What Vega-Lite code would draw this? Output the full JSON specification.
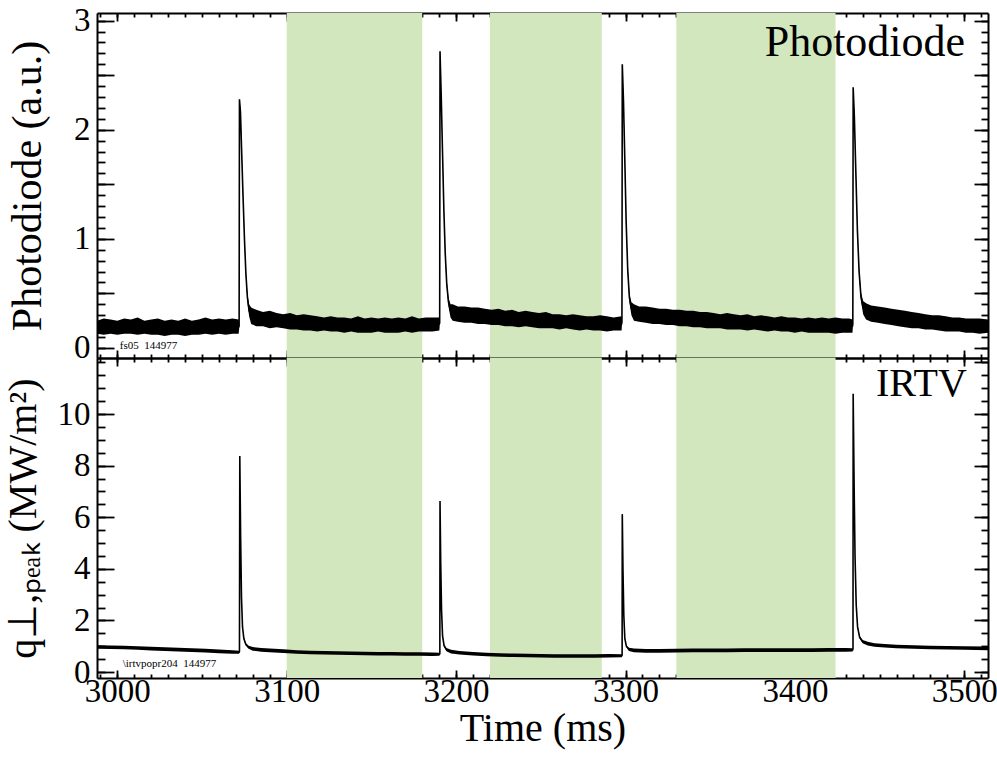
{
  "$schema": "https://vega.github.io/schema/vega-lite/v6.json",
  "padding": {"left": 2, "top": 4, "right": 5, "bottom": 5},
  "bounds": "flush",
  "background": "white",
  "config": {
    "view": {"stroke": null},
    "font": "Liberation Serif",
    "axis": {
      "domainColor": "black", "domainWidth": 2, "tickColor": "black", "tickWidth": 1.8,
      "labelColor": "black", "titleColor": "black", "titleFontWeight": "normal",
      "labelFont": "Liberation Serif", "titleFont": "Liberation Serif",
      "labelOverlap": false, "labelFlush": false, "labelBound": false, "grid": false, "zindex": 1
    }
  },
  "datasets": {
    "bands": [
      {"start": 3100, "end": 3180},
      {"start": 3220, "end": 3286},
      {"start": 3330, "end": 3424}
    ],
    "pd": [
      {"t":2988,"v":0.19,"lo":0.13,"hi":0.25},{"t":2992,"v":0.19,"lo":0.12,"hi":0.27},{"t":2996,"v":0.2,"lo":0.13,"hi":0.26},
      {"t":3000,"v":0.19,"lo":0.12,"hi":0.25},{"t":3004,"v":0.19,"lo":0.13,"hi":0.27},{"t":3008,"v":0.2,"lo":0.13,"hi":0.26},
      {"t":3012,"v":0.19,"lo":0.12,"hi":0.28},{"t":3016,"v":0.19,"lo":0.13,"hi":0.25},{"t":3020,"v":0.18,"lo":0.12,"hi":0.26},
      {"t":3024,"v":0.19,"lo":0.12,"hi":0.27},{"t":3028,"v":0.18,"lo":0.11,"hi":0.25},{"t":3032,"v":0.18,"lo":0.12,"hi":0.26},
      {"t":3036,"v":0.19,"lo":0.12,"hi":0.25},{"t":3040,"v":0.18,"lo":0.11,"hi":0.27},{"t":3044,"v":0.18,"lo":0.12,"hi":0.25},
      {"t":3048,"v":0.19,"lo":0.12,"hi":0.26},{"t":3052,"v":0.19,"lo":0.13,"hi":0.28},{"t":3056,"v":0.19,"lo":0.12,"hi":0.26},
      {"t":3060,"v":0.19,"lo":0.13,"hi":0.27},{"t":3064,"v":0.19,"lo":0.12,"hi":0.26},{"t":3068,"v":0.2,"lo":0.13,"hi":0.27},
      {"t":3071.6,"v":0.19,"lo":0.13,"hi":0.26},{"t":3071.9,"v":0.2,"lo":0.17,"hi":0.23},
      {"t":3072.1,"v":2.28,"lo":2.26,"hi":2.29},{"t":3072.7,"v":2.16,"lo":2.13,"hi":2.19},{"t":3073.5,"v":1.75,"lo":1.72,"hi":1.78},
      {"t":3074.3,"v":1.35,"lo":1.32,"hi":1.38},{"t":3075.1,"v":0.98,"lo":0.95,"hi":1.01},{"t":3075.9,"v":0.68,"lo":0.65,"hi":0.71},
      {"t":3076.8,"v":0.46,"lo":0.42,"hi":0.5},{"t":3077.8,"v":0.34,"lo":0.29,"hi":0.4},{"t":3079,"v":0.29,"lo":0.22,"hi":0.37},
      {"t":3082,"v":0.27,"lo":0.2,"hi":0.35},{"t":3086,"v":0.26,"lo":0.2,"hi":0.33},{"t":3090,"v":0.25,"lo":0.18,"hi":0.34},
      {"t":3094,"v":0.25,"lo":0.19,"hi":0.32},{"t":3098,"v":0.24,"lo":0.18,"hi":0.31},{"t":3102,"v":0.24,"lo":0.17,"hi":0.32},
      {"t":3106,"v":0.23,"lo":0.17,"hi":0.3},{"t":3110,"v":0.23,"lo":0.16,"hi":0.31},{"t":3114,"v":0.22,"lo":0.16,"hi":0.3},
      {"t":3118,"v":0.22,"lo":0.15,"hi":0.29},{"t":3122,"v":0.22,"lo":0.16,"hi":0.28},{"t":3126,"v":0.21,"lo":0.15,"hi":0.29},
      {"t":3130,"v":0.21,"lo":0.15,"hi":0.28},{"t":3134,"v":0.21,"lo":0.14,"hi":0.28},{"t":3138,"v":0.21,"lo":0.15,"hi":0.27},
      {"t":3142,"v":0.21,"lo":0.14,"hi":0.29},{"t":3146,"v":0.2,"lo":0.14,"hi":0.27},{"t":3150,"v":0.2,"lo":0.14,"hi":0.28},
      {"t":3154,"v":0.21,"lo":0.15,"hi":0.27},{"t":3158,"v":0.2,"lo":0.14,"hi":0.28},{"t":3162,"v":0.21,"lo":0.14,"hi":0.27},
      {"t":3166,"v":0.2,"lo":0.14,"hi":0.28},{"t":3170,"v":0.21,"lo":0.15,"hi":0.27},{"t":3174,"v":0.21,"lo":0.14,"hi":0.29},
      {"t":3178,"v":0.21,"lo":0.15,"hi":0.27},{"t":3182,"v":0.21,"lo":0.15,"hi":0.28},{"t":3186,"v":0.22,"lo":0.15,"hi":0.28},
      {"t":3190.1,"v":0.22,"lo":0.16,"hi":0.28},{"t":3190.3,"v":0.23,"lo":0.2,"hi":0.26},
      {"t":3190.5,"v":2.72,"lo":2.7,"hi":2.73},{"t":3191.2,"v":2.32,"lo":2.29,"hi":2.35},{"t":3192.0,"v":1.78,"lo":1.75,"hi":1.81},
      {"t":3192.8,"v":1.25,"lo":1.22,"hi":1.28},{"t":3193.6,"v":0.86,"lo":0.83,"hi":0.89},{"t":3194.5,"v":0.58,"lo":0.55,"hi":0.61},
      {"t":3195.5,"v":0.42,"lo":0.38,"hi":0.46},{"t":3196.7,"v":0.34,"lo":0.28,"hi":0.4},{"t":3198,"v":0.32,"lo":0.25,"hi":0.4},
      {"t":3201,"v":0.31,"lo":0.24,"hi":0.38},{"t":3205,"v":0.3,"lo":0.23,"hi":0.38},{"t":3209,"v":0.3,"lo":0.23,"hi":0.37},
      {"t":3213,"v":0.29,"lo":0.22,"hi":0.37},{"t":3217,"v":0.29,"lo":0.22,"hi":0.36},{"t":3221,"v":0.28,"lo":0.21,"hi":0.35},
      {"t":3225,"v":0.28,"lo":0.21,"hi":0.36},{"t":3229,"v":0.27,"lo":0.2,"hi":0.34},{"t":3233,"v":0.27,"lo":0.2,"hi":0.35},
      {"t":3237,"v":0.26,"lo":0.19,"hi":0.33},{"t":3241,"v":0.26,"lo":0.2,"hi":0.34},{"t":3245,"v":0.26,"lo":0.19,"hi":0.33},
      {"t":3249,"v":0.25,"lo":0.18,"hi":0.32},{"t":3253,"v":0.25,"lo":0.18,"hi":0.33},{"t":3257,"v":0.24,"lo":0.18,"hi":0.31},
      {"t":3261,"v":0.24,"lo":0.17,"hi":0.31},{"t":3265,"v":0.24,"lo":0.18,"hi":0.3},{"t":3269,"v":0.23,"lo":0.17,"hi":0.31},
      {"t":3273,"v":0.23,"lo":0.16,"hi":0.3},{"t":3277,"v":0.23,"lo":0.17,"hi":0.29},{"t":3281,"v":0.22,"lo":0.16,"hi":0.29},
      {"t":3285,"v":0.22,"lo":0.16,"hi":0.3},{"t":3289,"v":0.22,"lo":0.15,"hi":0.29},{"t":3293,"v":0.22,"lo":0.16,"hi":0.28},
      {"t":3297.7,"v":0.22,"lo":0.16,"hi":0.29},{"t":3297.9,"v":0.24,"lo":0.21,"hi":0.27},
      {"t":3298.1,"v":2.6,"lo":2.58,"hi":2.61},{"t":3298.8,"v":2.27,"lo":2.24,"hi":2.3},{"t":3299.6,"v":1.72,"lo":1.69,"hi":1.75},
      {"t":3300.4,"v":1.15,"lo":1.12,"hi":1.18},{"t":3301.3,"v":0.72,"lo":0.69,"hi":0.75},{"t":3302.3,"v":0.46,"lo":0.42,"hi":0.5},
      {"t":3303.5,"v":0.36,"lo":0.3,"hi":0.42},{"t":3305,"v":0.32,"lo":0.25,"hi":0.4},{"t":3308,"v":0.31,"lo":0.24,"hi":0.38},
      {"t":3312,"v":0.3,"lo":0.23,"hi":0.38},{"t":3316,"v":0.29,"lo":0.22,"hi":0.37},{"t":3320,"v":0.29,"lo":0.22,"hi":0.36},
      {"t":3324,"v":0.28,"lo":0.21,"hi":0.36},{"t":3328,"v":0.28,"lo":0.21,"hi":0.35},{"t":3332,"v":0.27,"lo":0.2,"hi":0.35},
      {"t":3336,"v":0.27,"lo":0.2,"hi":0.34},{"t":3340,"v":0.26,"lo":0.19,"hi":0.34},{"t":3344,"v":0.26,"lo":0.19,"hi":0.33},
      {"t":3348,"v":0.25,"lo":0.18,"hi":0.33},{"t":3352,"v":0.25,"lo":0.18,"hi":0.32},{"t":3356,"v":0.24,"lo":0.18,"hi":0.31},
      {"t":3360,"v":0.24,"lo":0.17,"hi":0.32},{"t":3364,"v":0.24,"lo":0.17,"hi":0.31},{"t":3368,"v":0.23,"lo":0.17,"hi":0.3},
      {"t":3372,"v":0.23,"lo":0.16,"hi":0.31},{"t":3376,"v":0.23,"lo":0.17,"hi":0.29},{"t":3380,"v":0.22,"lo":0.16,"hi":0.3},
      {"t":3384,"v":0.22,"lo":0.15,"hi":0.29},{"t":3388,"v":0.22,"lo":0.16,"hi":0.28},{"t":3392,"v":0.21,"lo":0.15,"hi":0.29},
      {"t":3396,"v":0.21,"lo":0.15,"hi":0.28},{"t":3400,"v":0.21,"lo":0.14,"hi":0.28},{"t":3404,"v":0.21,"lo":0.15,"hi":0.27},
      {"t":3408,"v":0.21,"lo":0.14,"hi":0.28},{"t":3412,"v":0.2,"lo":0.14,"hi":0.27},{"t":3416,"v":0.21,"lo":0.14,"hi":0.28},
      {"t":3420,"v":0.2,"lo":0.14,"hi":0.27},{"t":3424,"v":0.2,"lo":0.13,"hi":0.28},{"t":3428,"v":0.2,"lo":0.14,"hi":0.27},
      {"t":3432,"v":0.2,"lo":0.14,"hi":0.27},{"t":3434.0,"v":0.2,"lo":0.14,"hi":0.26},{"t":3434.2,"v":0.22,"lo":0.19,"hi":0.25},
      {"t":3434.4,"v":2.39,"lo":2.37,"hi":2.4},{"t":3435.1,"v":2.12,"lo":2.09,"hi":2.15},{"t":3436.0,"v":1.6,"lo":1.57,"hi":1.63},
      {"t":3436.9,"v":1.08,"lo":1.05,"hi":1.11},{"t":3437.9,"v":0.7,"lo":0.67,"hi":0.73},{"t":3439,"v":0.47,"lo":0.43,"hi":0.51},
      {"t":3440.3,"v":0.37,"lo":0.31,"hi":0.43},{"t":3442,"v":0.33,"lo":0.26,"hi":0.41},{"t":3445,"v":0.31,"lo":0.24,"hi":0.39},
      {"t":3449,"v":0.3,"lo":0.23,"hi":0.38},{"t":3453,"v":0.29,"lo":0.22,"hi":0.37},{"t":3457,"v":0.28,"lo":0.21,"hi":0.36},
      {"t":3461,"v":0.27,"lo":0.2,"hi":0.35},{"t":3465,"v":0.26,"lo":0.19,"hi":0.34},{"t":3469,"v":0.25,"lo":0.18,"hi":0.33},
      {"t":3473,"v":0.24,"lo":0.18,"hi":0.32},{"t":3477,"v":0.24,"lo":0.17,"hi":0.31},{"t":3481,"v":0.23,"lo":0.17,"hi":0.3},
      {"t":3485,"v":0.22,"lo":0.16,"hi":0.3},{"t":3489,"v":0.22,"lo":0.15,"hi":0.29},{"t":3493,"v":0.21,"lo":0.15,"hi":0.28},
      {"t":3497,"v":0.21,"lo":0.15,"hi":0.28},{"t":3501,"v":0.2,"lo":0.14,"hi":0.27},{"t":3505,"v":0.2,"lo":0.14,"hi":0.27},
      {"t":3509,"v":0.2,"lo":0.13,"hi":0.27},{"t":3514,"v":0.2,"lo":0.14,"hi":0.26}
    ],
    "ir": [
      {"t":2988,"v":0.97,"lo":0.9,"hi":1.04},{"t":2996,"v":0.96,"lo":0.89,"hi":1.03},{"t":3004,"v":0.95,"lo":0.88,"hi":1.02},
      {"t":3012,"v":0.93,"lo":0.86,"hi":1.0},{"t":3020,"v":0.91,"lo":0.84,"hi":0.98},{"t":3028,"v":0.89,"lo":0.82,"hi":0.96},
      {"t":3036,"v":0.87,"lo":0.8,"hi":0.94},{"t":3044,"v":0.85,"lo":0.78,"hi":0.92},{"t":3052,"v":0.83,"lo":0.76,"hi":0.9},
      {"t":3060,"v":0.8,"lo":0.73,"hi":0.87},{"t":3068,"v":0.78,"lo":0.71,"hi":0.85},{"t":3071.9,"v":0.77,"lo":0.71,"hi":0.83},
      {"t":3072.1,"v":0.8,"lo":0.78,"hi":0.82},
      {"t":3072.3,"v":8.37,"lo":8.35,"hi":8.38},{"t":3072.8,"v":5.2,"lo":5.18,"hi":5.22},{"t":3073.3,"v":2.9,"lo":2.88,"hi":2.92},
      {"t":3073.9,"v":1.75,"lo":1.72,"hi":1.78},{"t":3074.7,"v":1.3,"lo":1.26,"hi":1.34},{"t":3075.8,"v":1.08,"lo":1.03,"hi":1.13},
      {"t":3077.5,"v":0.96,"lo":0.9,"hi":1.02},{"t":3080,"v":0.9,"lo":0.83,"hi":0.97},{"t":3085,"v":0.86,"lo":0.79,"hi":0.93},
      {"t":3090,"v":0.84,"lo":0.77,"hi":0.91},{"t":3098,"v":0.81,"lo":0.74,"hi":0.88},{"t":3106,"v":0.78,"lo":0.71,"hi":0.85},
      {"t":3114,"v":0.76,"lo":0.69,"hi":0.83},{"t":3122,"v":0.75,"lo":0.68,"hi":0.82},{"t":3130,"v":0.74,"lo":0.67,"hi":0.81},
      {"t":3138,"v":0.73,"lo":0.66,"hi":0.8},{"t":3146,"v":0.72,"lo":0.65,"hi":0.79},{"t":3154,"v":0.71,"lo":0.64,"hi":0.78},
      {"t":3162,"v":0.71,"lo":0.64,"hi":0.78},{"t":3170,"v":0.7,"lo":0.63,"hi":0.77},{"t":3178,"v":0.7,"lo":0.63,"hi":0.77},
      {"t":3186,"v":0.69,"lo":0.62,"hi":0.76},{"t":3190.2,"v":0.69,"lo":0.63,"hi":0.75},{"t":3190.4,"v":0.72,"lo":0.7,"hi":0.74},
      {"t":3190.5,"v":6.63,"lo":6.61,"hi":6.64},{"t":3190.9,"v":4.3,"lo":4.28,"hi":4.32},{"t":3191.4,"v":2.4,"lo":2.38,"hi":2.42},
      {"t":3192.0,"v":1.4,"lo":1.37,"hi":1.43},{"t":3192.9,"v":1.02,"lo":0.98,"hi":1.06},{"t":3194.3,"v":0.87,"lo":0.81,"hi":0.93},
      {"t":3197,"v":0.79,"lo":0.72,"hi":0.86},{"t":3202,"v":0.75,"lo":0.68,"hi":0.82},{"t":3210,"v":0.71,"lo":0.64,"hi":0.78},
      {"t":3218,"v":0.68,"lo":0.61,"hi":0.75},{"t":3226,"v":0.66,"lo":0.59,"hi":0.73},{"t":3234,"v":0.65,"lo":0.58,"hi":0.72},
      {"t":3242,"v":0.64,"lo":0.57,"hi":0.71},{"t":3250,"v":0.63,"lo":0.56,"hi":0.7},{"t":3258,"v":0.62,"lo":0.55,"hi":0.69},
      {"t":3266,"v":0.62,"lo":0.55,"hi":0.69},{"t":3274,"v":0.62,"lo":0.55,"hi":0.69},{"t":3282,"v":0.62,"lo":0.55,"hi":0.69},
      {"t":3290,"v":0.63,"lo":0.56,"hi":0.7},{"t":3297.8,"v":0.63,"lo":0.57,"hi":0.69},{"t":3298.0,"v":0.66,"lo":0.64,"hi":0.68},
      {"t":3298.1,"v":6.12,"lo":6.1,"hi":6.13},{"t":3298.5,"v":4.0,"lo":3.98,"hi":4.02},{"t":3299.0,"v":2.2,"lo":2.18,"hi":2.22},
      {"t":3299.6,"v":1.3,"lo":1.27,"hi":1.33},{"t":3300.5,"v":1.0,"lo":0.96,"hi":1.04},{"t":3302,"v":0.88,"lo":0.82,"hi":0.94},
      {"t":3305,"v":0.84,"lo":0.77,"hi":0.91},{"t":3312,"v":0.82,"lo":0.75,"hi":0.89},{"t":3320,"v":0.82,"lo":0.75,"hi":0.89},
      {"t":3330,"v":0.83,"lo":0.76,"hi":0.9},{"t":3340,"v":0.84,"lo":0.77,"hi":0.91},{"t":3350,"v":0.84,"lo":0.77,"hi":0.91},
      {"t":3360,"v":0.84,"lo":0.77,"hi":0.91},{"t":3370,"v":0.85,"lo":0.78,"hi":0.92},{"t":3380,"v":0.85,"lo":0.78,"hi":0.92},
      {"t":3390,"v":0.85,"lo":0.78,"hi":0.92},{"t":3400,"v":0.85,"lo":0.78,"hi":0.92},{"t":3410,"v":0.85,"lo":0.78,"hi":0.92},
      {"t":3420,"v":0.86,"lo":0.79,"hi":0.93},{"t":3430,"v":0.86,"lo":0.79,"hi":0.93},{"t":3434.1,"v":0.86,"lo":0.8,"hi":0.92},
      {"t":3434.3,"v":0.9,"lo":0.88,"hi":0.92},
      {"t":3434.4,"v":10.78,"lo":10.76,"hi":10.79},{"t":3434.9,"v":7.6,"lo":7.58,"hi":7.62},{"t":3435.5,"v":4.5,"lo":4.48,"hi":4.52},
      {"t":3436.2,"v":2.6,"lo":2.57,"hi":2.63},{"t":3437.0,"v":1.75,"lo":1.71,"hi":1.79},{"t":3438.2,"v":1.35,"lo":1.3,"hi":1.4},
      {"t":3440,"v":1.18,"lo":1.12,"hi":1.24},{"t":3443,"v":1.1,"lo":1.03,"hi":1.17},{"t":3447,"v":1.05,"lo":0.98,"hi":1.12},
      {"t":3453,"v":1.02,"lo":0.95,"hi":1.09},{"t":3460,"v":0.99,"lo":0.92,"hi":1.06},{"t":3470,"v":0.97,"lo":0.9,"hi":1.04},
      {"t":3480,"v":0.95,"lo":0.88,"hi":1.02},{"t":3490,"v":0.94,"lo":0.87,"hi":1.01},{"t":3500,"v":0.93,"lo":0.86,"hi":1.0},
      {"t":3514,"v":0.92,"lo":0.85,"hi":0.99}
    ],
    "pdbig": [{"t": 3500.5, "y": 2.68, "text": "Photodiode"}],
    "pdsmall": [{"t": 3001.5, "y": -0.01, "text": "fs05\u00a0\u00a0144977"}],
    "irbig": [{"t": 3501.5, "y": 10.7, "text": "IRTV"}],
    "irsmall": [{"t": 3003.2, "y": 0.19, "text": "\\irtvpopr204\u00a0\u00a0144977"}]
  },
  "spacing": 0,
  "vconcat": [
    {
      "width": 891,
      "height": 345,
      "resolve": {"axis": {"x": "independent", "y": "independent"}},
      "layer": [
        {
          "data": {"name": "bands"},
          "mark": {"type": "rect", "color": "#d2e7bd"},
          "encoding": {
            "x": {"field": "start", "type": "quantitative", "axis": null, "scale": {"domain": [2988, 3514], "nice": false, "zero": false}},
            "x2": {"field": "end"}
          }
        },
        {
          "data": {"name": "pd"},
          "mark": {"type": "area", "color": "black", "opacity": 1},
          "encoding": {
            "x": {"field": "t", "type": "quantitative", "scale": {"domain": [2988, 3514], "nice": false, "zero": false},
              "axis": {"orient": "bottom", "labels": false, "title": null, "values": [3000,3100,3200,3300,3400,3500], "tickSize": -8}},
            "y": {"field": "lo", "type": "quantitative", "scale": {"domain": [-0.092, 3.07], "nice": false, "zero": false},
              "axis": {"orient": "left", "title": "Photodiode (a.u.)", "titleFontSize": 42, "titlePadding": 24,
                "labelFontSize": 33, "labelPadding": 24, "tickSize": -17,
                "labelExpr": "datum.value % 1 === 0 ? format(datum.value, 'd') : ''",
                "values": [0,0.5,1,1.5,2,2.5,3]}},
            "y2": {"field": "hi"}
          }
        },
        {
          "data": {"name": "pd"},
          "mark": {"type": "line", "color": "black", "strokeWidth": 1.6},
          "encoding": {
            "x": {"field": "t", "type": "quantitative", "scale": {"domain": [2988, 3514], "nice": false, "zero": false},
              "axis": {"orient": "bottom", "labels": false, "title": null, "domain": false, "tickSize": -4,
                "values": [2990,3000,3010,3020,3030,3040,3050,3060,3070,3080,3090,3100,3110,3120,3130,3140,3150,3160,3170,3180,3190,3200,3210,3220,3230,3240,3250,3260,3270,3280,3290,3300,3310,3320,3330,3340,3350,3360,3370,3380,3390,3400,3410,3420,3430,3440,3450,3460,3470,3480,3490,3500,3510]}},
            "y": {"field": "v", "type": "quantitative", "scale": {"domain": [-0.092, 3.07], "nice": false, "zero": false},
              "axis": {"orient": "left", "labels": false, "title": null, "domain": false, "tickSize": -8,
                "values": [0,0.1,0.2,0.3,0.4,0.5,0.6,0.7,0.8,0.9,1,1.1,1.2,1.3,1.4,1.5,1.6,1.7,1.8,1.9,2,2.1,2.2,2.3,2.4,2.5,2.6,2.7,2.8,2.9,3]}}
          }
        },
        {
          "data": {"name": "pd"},
          "mark": {"type": "line", "strokeOpacity": 0},
          "encoding": {
            "x": {"field": "t", "type": "quantitative", "scale": {"domain": [2988, 3514], "nice": false, "zero": false},
              "axis": {"orient": "top", "labels": false, "title": null, "values": [3000,3100,3200,3300,3400,3500], "tickSize": -8}},
            "y": {"field": "v", "type": "quantitative", "scale": {"domain": [-0.092, 3.07], "nice": false, "zero": false},
              "axis": {"orient": "right", "labels": false, "title": null, "tickSize": -14, "values": [0,0.5,1,1.5,2,2.5,3]}}
          }
        },
        {
          "data": {"name": "pd"},
          "mark": {"type": "line", "strokeOpacity": 0},
          "encoding": {
            "x": {"field": "t", "type": "quantitative", "scale": {"domain": [2988, 3514], "nice": false, "zero": false},
              "axis": {"orient": "top", "labels": false, "title": null, "domain": false, "tickSize": -4,
                "values": [2990,3000,3010,3020,3030,3040,3050,3060,3070,3080,3090,3100,3110,3120,3130,3140,3150,3160,3170,3180,3190,3200,3210,3220,3230,3240,3250,3260,3270,3280,3290,3300,3310,3320,3330,3340,3350,3360,3370,3380,3390,3400,3410,3420,3430,3440,3450,3460,3470,3480,3490,3500,3510]}},
            "y": {"field": "v", "type": "quantitative", "scale": {"domain": [-0.092, 3.07], "nice": false, "zero": false},
              "axis": {"orient": "right", "labels": false, "title": null, "domain": false, "tickSize": -7,
                "values": [0,0.1,0.2,0.3,0.4,0.5,0.6,0.7,0.8,0.9,1,1.1,1.2,1.3,1.4,1.5,1.6,1.7,1.8,1.9,2,2.1,2.2,2.3,2.4,2.5,2.6,2.7,2.8,2.9,3]}}
          }
        },
        {
          "data": {"name": "pdbig"},
          "mark": {"type": "text", "baseline": "alphabetic", "align": "right", "color": "black", "font": "Liberation Serif", "fontSize": 44},
          "encoding": {
            "x": {"field": "t", "type": "quantitative", "axis": null, "scale": {"domain": [2988, 3514], "nice": false, "zero": false}},
            "y": {"field": "y", "type": "quantitative", "axis": null, "scale": {"domain": [-0.092, 3.07], "nice": false, "zero": false}},
            "text": {"field": "text"}
          }
        },
        {
          "data": {"name": "pdsmall"},
          "mark": {"type": "text", "baseline": "alphabetic", "align": "left", "color": "black", "font": "Liberation Serif", "fontSize": 11},
          "encoding": {
            "x": {"field": "t", "type": "quantitative", "axis": null, "scale": {"domain": [2988, 3514], "nice": false, "zero": false}},
            "y": {"field": "y", "type": "quantitative", "axis": null, "scale": {"domain": [-0.092, 3.07], "nice": false, "zero": false}},
            "text": {"field": "text"}
          }
        }
      ]
    },
    {
      "width": 891,
      "height": 320,
      "resolve": {"axis": {"x": "independent", "y": "independent"}},
      "layer": [
        {
          "data": {"name": "bands"},
          "mark": {"type": "rect", "color": "#d2e7bd"},
          "encoding": {
            "x": {"field": "start", "type": "quantitative", "axis": null, "scale": {"domain": [2988, 3514], "nice": false, "zero": false}},
            "x2": {"field": "end"}
          }
        },
        {
          "data": {"name": "ir"},
          "mark": {"type": "area", "color": "black", "opacity": 1},
          "encoding": {
            "x": {"field": "t", "type": "quantitative", "scale": {"domain": [2988, 3514], "nice": false, "zero": false},
              "axis": {"orient": "bottom", "title": "Time (ms)", "titleFontSize": 40, "titlePadding": 0,
                "labelFontSize": 33, "labelPadding": 5, "tickSize": -8,
                "labelExpr": "format(datum.value, 'd')",
                "values": [3000,3100,3200,3300,3400,3500]}},
            "y": {"field": "lo", "type": "quantitative", "scale": {"domain": [-0.23, 12.17], "nice": false, "zero": false},
              "axis": {"orient": "left", "title": "q⊥,ₚₑₐₖ (MW/m²)", "titleFontSize": 40, "titlePadding": 14,
                "labelFontSize": 33, "labelPadding": 24, "tickSize": -17,
                "labelExpr": "format(datum.value, 'd')",
                "values": [0,2,4,6,8,10]}},
            "y2": {"field": "hi"}
          }
        },
        {
          "data": {"name": "ir"},
          "mark": {"type": "line", "color": "black", "strokeWidth": 1.6},
          "encoding": {
            "x": {"field": "t", "type": "quantitative", "scale": {"domain": [2988, 3514], "nice": false, "zero": false},
              "axis": {"orient": "bottom", "labels": false, "title": null, "domain": false, "tickSize": -4,
                "values": [2990,3000,3010,3020,3030,3040,3050,3060,3070,3080,3090,3100,3110,3120,3130,3140,3150,3160,3170,3180,3190,3200,3210,3220,3230,3240,3250,3260,3270,3280,3290,3300,3310,3320,3330,3340,3350,3360,3370,3380,3390,3400,3410,3420,3430,3440,3450,3460,3470,3480,3490,3500,3510]}},
            "y": {"field": "v", "type": "quantitative", "scale": {"domain": [-0.23, 12.17], "nice": false, "zero": false},
              "axis": {"orient": "left", "labels": false, "title": null, "domain": false, "tickSize": -8,
                "values": [0,0.5,1,1.5,2,2.5,3,3.5,4,4.5,5,5.5,6,6.5,7,7.5,8,8.5,9,9.5,10,10.5,11,11.5,12]}}
          }
        },
        {
          "data": {"name": "ir"},
          "mark": {"type": "line", "strokeOpacity": 0},
          "encoding": {
            "x": {"field": "t", "type": "quantitative", "scale": {"domain": [2988, 3514], "nice": false, "zero": false},
              "axis": {"orient": "top", "labels": false, "title": null, "values": [3000,3100,3200,3300,3400,3500], "tickSize": -8}},
            "y": {"field": "v", "type": "quantitative", "scale": {"domain": [-0.23, 12.17], "nice": false, "zero": false},
              "axis": {"orient": "right", "labels": false, "title": null, "tickSize": -14, "values": [0,2,4,6,8,10,12]}}
          }
        },
        {
          "data": {"name": "ir"},
          "mark": {"type": "line", "strokeOpacity": 0},
          "encoding": {
            "x": {"field": "t", "type": "quantitative", "scale": {"domain": [2988, 3514], "nice": false, "zero": false},
              "axis": {"orient": "top", "labels": false, "title": null, "domain": false, "tickSize": -4,
                "values": [2990,3000,3010,3020,3030,3040,3050,3060,3070,3080,3090,3100,3110,3120,3130,3140,3150,3160,3170,3180,3190,3200,3210,3220,3230,3240,3250,3260,3270,3280,3290,3300,3310,3320,3330,3340,3350,3360,3370,3380,3390,3400,3410,3420,3430,3440,3450,3460,3470,3480,3490,3500,3510]}},
            "y": {"field": "v", "type": "quantitative", "scale": {"domain": [-0.23, 12.17], "nice": false, "zero": false},
              "axis": {"orient": "right", "labels": false, "title": null, "domain": false, "tickSize": -7,
                "values": [0,0.5,1,1.5,2,2.5,3,3.5,4,4.5,5,5.5,6,6.5,7,7.5,8,8.5,9,9.5,10,10.5,11,11.5,12]}}
          }
        },
        {
          "data": {"name": "irbig"},
          "mark": {"type": "text", "baseline": "alphabetic", "align": "right", "color": "black", "font": "Liberation Serif", "fontSize": 40},
          "encoding": {
            "x": {"field": "t", "type": "quantitative", "axis": null, "scale": {"domain": [2988, 3514], "nice": false, "zero": false}},
            "y": {"field": "y", "type": "quantitative", "axis": null, "scale": {"domain": [-0.23, 12.17], "nice": false, "zero": false}},
            "text": {"field": "text"}
          }
        },
        {
          "data": {"name": "irsmall"},
          "mark": {"type": "text", "baseline": "alphabetic", "align": "left", "color": "black", "font": "Liberation Serif", "fontSize": 11},
          "encoding": {
            "x": {"field": "t", "type": "quantitative", "axis": null, "scale": {"domain": [2988, 3514], "nice": false, "zero": false}},
            "y": {"field": "y", "type": "quantitative", "axis": null, "scale": {"domain": [-0.23, 12.17], "nice": false, "zero": false}},
            "text": {"field": "text"}
          }
        }
      ]
    }
  ]
}
